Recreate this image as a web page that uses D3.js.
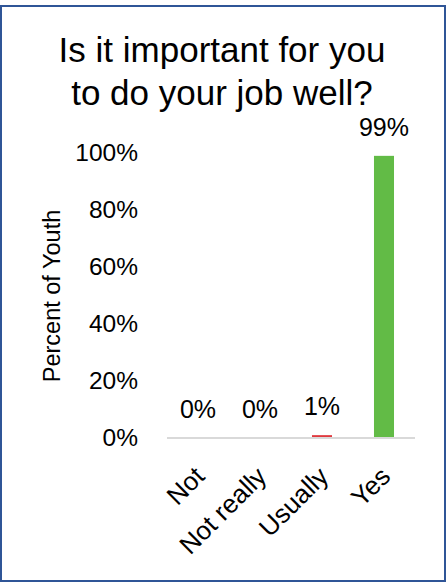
<!DOCTYPE html>
<html>
<head>
<meta charset="utf-8">
<script src="https://cdn.jsdelivr.net/npm/d3@7"></script>
<style>
  html, body { margin: 0; padding: 0; background: #fff; }
  svg { display: block; }
  text { font-family: "Liberation Sans", Arial, sans-serif; fill: #000; }
</style>
</head>
<body>
<div id="chart"></div>
<script>
const categories = ["Not", "Not really", "Usually", "Yes"];
const values = [0, 0, 0.01, 0.99];
const valueLabels = ["0%", "0%", "1%", "99%"];
const barColors = ["#5B9BD5", "#ED7D31", "#E0393E", "#62BB46"];
const yTicks = [0, 0.2, 0.4, 0.6, 0.8, 1.0];
const titleLines = ["Is it important for you", "to do your job well?"];
const yAxisTitle = "Percent of Youth";

const W = 447, H = 584;
const svg = d3.select("#chart").append("svg").attr("width", W).attr("height", H);

// border
svg.append("rect").attr("x", 1).attr("y", 6).attr("width", 444).attr("height", 575)
  .attr("fill", "#fff").attr("stroke", "#2F5597").attr("stroke-width", 2);

const x = d3.scaleBand().domain(categories).range([167, 415])
  .paddingInner(0.677).paddingOuter(0.3387);
const y = d3.scaleLinear().domain([0, 1]).range([438, 153]);

// title
svg.append("g").selectAll("text").data(titleLines).join("text")
  .attr("x", 222).attr("y", (d, i) => 62 + i * 43)
  .attr("text-anchor", "middle").attr("font-size", 35).text(d => d);

// y axis (labels only)
const yAxis = d3.axisLeft(y).tickValues(yTicks).tickFormat(d3.format(".0%")).tickSize(0).tickPadding(0);
const gy = svg.append("g").attr("transform", "translate(138,0)").call(yAxis);
gy.select(".domain").remove();
gy.selectAll("text").attr("font-size", 24.5).attr("font-family", "Liberation Sans, Arial, sans-serif").attr("fill", "#000");

// y axis title
svg.append("text").attr("transform", "translate(60,296) rotate(-90)")
  .attr("text-anchor", "middle").attr("font-size", 23.5).text(yAxisTitle);

// bars
svg.append("g").selectAll("rect").data(categories).join("rect")
  .attr("x", d => x(d)).attr("width", x.bandwidth())
  .attr("y", (d, i) => y(values[i])).attr("height", (d, i) => y(0) - y(values[i]))
  .attr("fill", (d, i) => barColors[i]);

// x axis line
const xAxis = d3.axisBottom(x).tickSize(0).tickPadding(0).tickFormat("");
const gx = svg.append("g").attr("transform", `translate(0,${y(0)})`).call(xAxis);
gx.select(".domain").attr("stroke", "#D9D9D9").attr("stroke-width", 2).attr("d", "M167,0H415");

// category labels
svg.append("g").selectAll("text").data(categories).join("text")
  .attr("transform", d => `translate(${x(d) + x.bandwidth() / 2 + 8},${y(0) + 40}) rotate(-45)`)
  .attr("text-anchor", "end").attr("font-size", 26).text(d => d);

// data labels
svg.append("g").selectAll("text").data(categories).join("text")
  .attr("x", d => x(d) + x.bandwidth() / 2)
  .attr("y", (d, i) => y(values[i]) - 20)
  .attr("text-anchor", "middle").attr("font-size", 25).text((d, i) => valueLabels[i]);
</script>
</body>
</html>
